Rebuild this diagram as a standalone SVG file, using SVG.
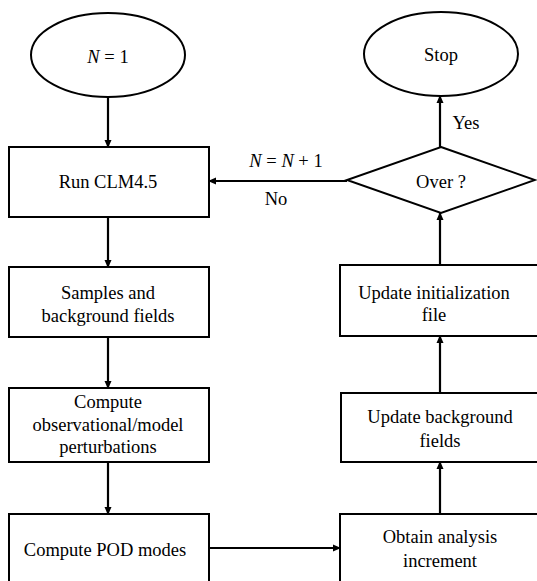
<svg xmlns="http://www.w3.org/2000/svg" width="537" height="581" viewBox="0 0 537 581">
<style>
.n{fill:#fff;stroke:#000;stroke-width:2}
.t{font-family:"Liberation Serif","DejaVu Serif",serif;font-size:18.5px;fill:#000;text-anchor:middle}
.c{stroke:#000;stroke-width:2.2;fill:none;marker-end:url(#a)}
</style>
<defs>
<marker id="a" markerWidth="8" markerHeight="8" refX="7" refY="4" orient="auto" markerUnits="userSpaceOnUse">
<path d="M0,0.5 L8,4 L0,7.5 Z" fill="#000"/>
</marker>
</defs>
<rect width="537" height="581" fill="#fff"/>
<g id="connectors">
<line class="c" x1="108" y1="97" x2="108" y2="147"/>
<line class="c" x1="108" y1="217" x2="108" y2="267"/>
<line class="c" x1="108" y1="337" x2="108" y2="388"/>
<line class="c" x1="108" y1="462" x2="108" y2="514"/>
<line class="c" x1="209" y1="548" x2="340" y2="548"/>
<line class="c" x1="440" y1="514" x2="440" y2="462"/>
<line class="c" x1="440" y1="393" x2="440" y2="336"/>
<line class="c" x1="440" y1="265" x2="440" y2="213"/>
<line class="c" x1="440" y1="147" x2="440" y2="96"/>
<line class="c" x1="347" y1="181" x2="209" y2="181"/>
<text class="t" x="286" y="167"><tspan font-style="italic">N</tspan> = <tspan font-style="italic">N</tspan> + 1</text>
<text class="t" x="276" y="205">No</text>
<text class="t" x="466" y="129">Yes</text>
</g>
<g id="start">
<ellipse class="n" cx="108" cy="55" rx="77" ry="42"/>
<text class="t" x="108" y="63"><tspan font-style="italic">N</tspan> = 1</text>
</g>
<g id="run">
<rect class="n" x="9" y="147" width="200" height="70"/>
<text class="t" x="108" y="188">Run CLM4.5</text>
</g>
<g id="samples">
<rect class="n" x="9" y="267" width="200" height="70"/>
<text class="t" x="108" y="299">Samples and</text>
<text class="t" x="108" y="322">background fields</text>
</g>
<g id="perturb">
<rect class="n" x="9" y="388" width="200" height="74"/>
<text class="t" x="108" y="408">Compute</text>
<text class="t" x="108" y="431">observational/model</text>
<text class="t" x="108" y="453">perturbations</text>
</g>
<g id="pod">
<rect class="n" x="9" y="514" width="200" height="80"/>
<text class="t" x="105" y="556">Compute POD modes</text>
</g>
<g id="increment">
<rect class="n" x="340" y="514" width="200" height="80"/>
<text class="t" x="440" y="543">Obtain analysis</text>
<text class="t" x="440" y="567">increment</text>
</g>
<g id="updbg">
<rect class="n" x="341" y="393" width="200" height="69"/>
<text class="t" x="440" y="423">Update background</text>
<text class="t" x="440" y="447">fields</text>
</g>
<g id="updinit">
<rect class="n" x="340" y="265" width="200" height="71"/>
<text class="t" x="434" y="299">Update initialization</text>
<text class="t" x="434" y="321">file</text>
</g>
<g id="over">
<polygon class="n" points="441,147 535,180 441,213 347,180"/>
<text class="t" x="441" y="188">Over ?</text>
</g>
<g id="stop">
<ellipse class="n" cx="441" cy="54" rx="77" ry="42"/>
<text class="t" x="441" y="61">Stop</text>
</g>
</svg>
